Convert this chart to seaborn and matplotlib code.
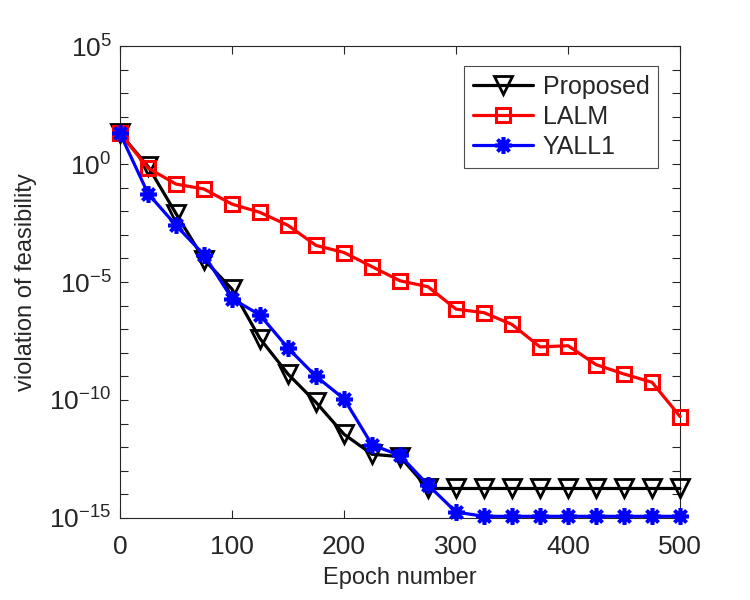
import numpy as np
import matplotlib
matplotlib.use('Agg')
import matplotlib.pyplot as plt
import pandas as pd
import seaborn as sns

# epochs and log10 of the feasibility violation
epochs = [0, 25, 50, 75, 100, 125, 150, 175, 200, 225, 250, 275, 300,
          325, 350, 375, 400, 425, 450, 475, 500]
proposed_log = [1.3, -0.1, -2.1, -4.05, -5.3, -7.4, -8.9, -10.1, -11.45, -12.3, -12.4,
                -13.75, -13.75, -13.75, -13.75, -13.75, -13.75, -13.75, -13.75, -13.75, -13.75]
lalm_log = [1.3, -0.17, -0.85, -1.06, -1.7, -2.05, -2.6, -3.45, -3.75, -4.35, -4.95,
            -5.2, -6.15, -6.3, -6.8, -7.75, -7.7, -8.5, -8.9, -9.25, -10.7]
yall1_log = [1.3, -1.25, -2.6, -3.85, -5.7, -6.4, -7.8, -9.0, -9.95, -11.9, -12.35,
             -13.6, -14.75, -14.93, -14.93, -14.93, -14.93, -14.93, -14.93, -14.93, -14.93]

sns.set_style('ticks')
plt.rcParams['font.family'] = ['Liberation Sans', 'DejaVu Sans']
plt.rcParams['mathtext.fontset'] = 'custom'
plt.rcParams['mathtext.rm'] = 'Liberation Sans'
plt.rcParams['mathtext.it'] = 'Liberation Sans'
plt.rcParams['mathtext.bf'] = 'Liberation Sans'

df = pd.DataFrame({'epoch': epochs,
                   'Proposed': np.power(10.0, proposed_log),
                   'LALM': np.power(10.0, lalm_log),
                   'YALL1': np.power(10.0, yall1_log)})

fig = plt.figure(figsize=(7.5, 6), dpi=100)
ax = fig.add_axes([0.16, 0.1367, 0.7467, 0.7866])

styles = [('Proposed', 'black', 'v', 13, 2.0, 'none'),
          ('LALM', 'red', 's', 10, 2.2, 'none'),
          ('YALL1', 'blue', (8, 2, 0), 12, 2.6, 'blue')]
for name, col, mk, ms, mew, mfc in styles:
    sns.lineplot(data=df, x='epoch', y=name, ax=ax, color=col, linewidth=2.3,
                 marker=mk, markersize=ms, markeredgewidth=mew,
                 markerfacecolor=mfc, markeredgecolor=col, label=name,
                 clip_on=False, zorder=3)

ax.set_yscale('log')
ax.set_xlim(0, 500)
ax.set_ylim(1e-15, 1e5)
ax.set_xticks([0, 100, 200, 300, 400, 500])
ax.set_yticks([10.0 ** k for k in range(-15, 6)])
ax.set_yticklabels([r'$10^{%d}$' % k if k % 5 == 0 else '' for k in range(-15, 6)])
ax.minorticks_off()
ax.tick_params(direction='in', top=True, right=True, length=6, width=0.8,
               labelsize=19, colors='0.15', pad=6)
ax.tick_params(axis='x', pad=12)
for s in ax.spines.values():
    s.set_color('0.15')
    s.set_linewidth(0.8)

ax.set_xlabel('Epoch number', fontsize=17, color='0.15', labelpad=6)
ax.set_ylabel('violation of feasibility', fontsize=17, color='0.15', labelpad=9)

leg = ax.legend(loc='upper right', bbox_to_anchor=(0.961, 0.958), fontsize=18,
                frameon=True, fancybox=False, framealpha=1, edgecolor='0.3',
                handlelength=2.4, borderpad=0.35, labelspacing=0.25,
                handletextpad=0.4, borderaxespad=0)
leg.get_frame().set_linewidth(0.8)

fig.savefig('out.png', dpi=100)
